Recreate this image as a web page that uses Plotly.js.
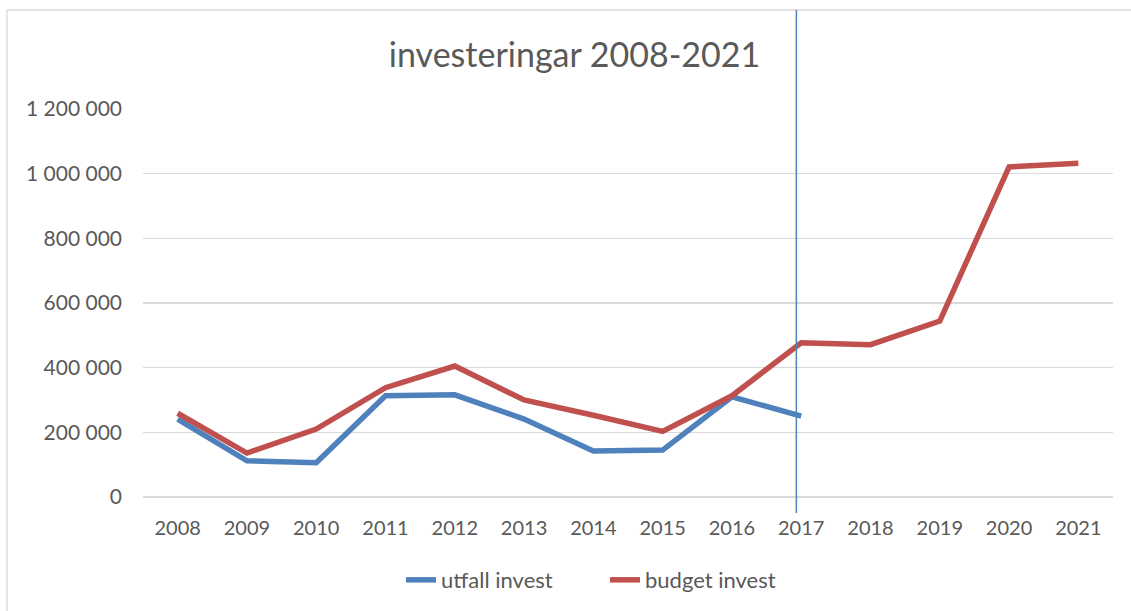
<!DOCTYPE html>
<html>
<head>
<meta charset="utf-8">
<script src="https://cdn.plot.ly/plotly-3.0.1.min.js"></script>
<style>html,body{margin:0;padding:0;background:#fff;}#chart{width:1131px;height:611px;}</style>
</head>
<body>
<div id="chart"></div>
<script>
const years = ['2008','2009','2010','2011','2012','2013','2014','2015','2016','2017','2018','2019','2020','2021'];
const utfallInvest = [241000, 112000, 106000, 313000, 316000, 241000, 142000, 145000, 310000, 250000];
const budgetInvest = [259000, 136000, 210000, 338000, 405000, 300000, 253000, 203000, 313000, 477000, 471000, 544000, 1021000, 1032000];
const yTicks = [0, 200000, 400000, 600000, 800000, 1000000, 1200000];
const dividerPos = 8.93; // vertical marker line position (category index units)

const fontFam = 'Lato, Carlito, Calibri, "Open Sans", sans-serif';
const txt = '#595959';

const traces = [
  {x: years.slice(0, utfallInvest.length), y: utfallInvest, name: 'utfall invest', type: 'scatter', mode: 'lines',
   line: {color: '#4F81BD', width: 5.5, shape: 'linear'}},
  {x: years, y: budgetInvest, name: 'budget invest', type: 'scatter', mode: 'lines',
   line: {color: '#C0504D', width: 5.5, shape: 'linear'}}
];

const layout = {
  width: 1131, height: 611,
  margin: {l: 143, r: 18, t: 109, b: 114, autoexpand: false},
  paper_bgcolor: '#ffffff', plot_bgcolor: '#ffffff',
  separators: ', ',
  font: {family: fontFam, color: txt, size: 20},
  title: {text: 'investeringar 2008-2021', x: 0.508, xref: 'container', xanchor: 'center',
          y: 0.91, yref: 'container', yanchor: 'middle',
          font: {family: fontFam, size: 34, color: txt}},
  xaxis: {type: 'category', range: [-0.5, 13.5], showgrid: false, zeroline: false, automargin: false,
          tickangle: 0, showline: false, ticks: '', tickfont: {size: 20, color: txt}, ticklabelstandoff: 17,
          fixedrange: true},
  yaxis: {range: [0, 1200000], tickvals: yTicks, tickformat: ',d', showgrid: true, automargin: false,
          gridcolor: '#d9d9d9', gridwidth: 1.3, zeroline: true, zerolinecolor: '#d9d9d9', zerolinewidth: 1.3,
          showline: false, ticks: '', tickfont: {size: 21, color: txt}, ticklabelstandoff: 20,
          fixedrange: true},
  showlegend: true,
  legend: {orientation: 'h', x: 0.266, xanchor: 'left', y: -0.214, yanchor: 'middle',
           entrywidth: 159, entrywidthmode: 'pixels',
           font: {size: 22, color: txt}, traceorder: 'normal'},
  shapes: [
    {type: 'rect', xref: 'paper', yref: 'paper', x0: -0.1402, x1: 1.04, y0: -0.35, y1: 1.2552,
     line: {color: '#d9d9d9', width: 1.3}, fillcolor: 'rgba(0,0,0,0)', layer: 'below'},
    {type: 'line', xref: 'x', yref: 'paper', x0: dividerPos, x1: dividerPos, y0: -0.041, y1: 1.2552,
     line: {color: '#4F81BD', width: 1.5}}
  ]
};

Plotly.newPlot('chart', traces, layout, {displayModeBar: false, staticPlot: true});
</script>
</body>
</html>
